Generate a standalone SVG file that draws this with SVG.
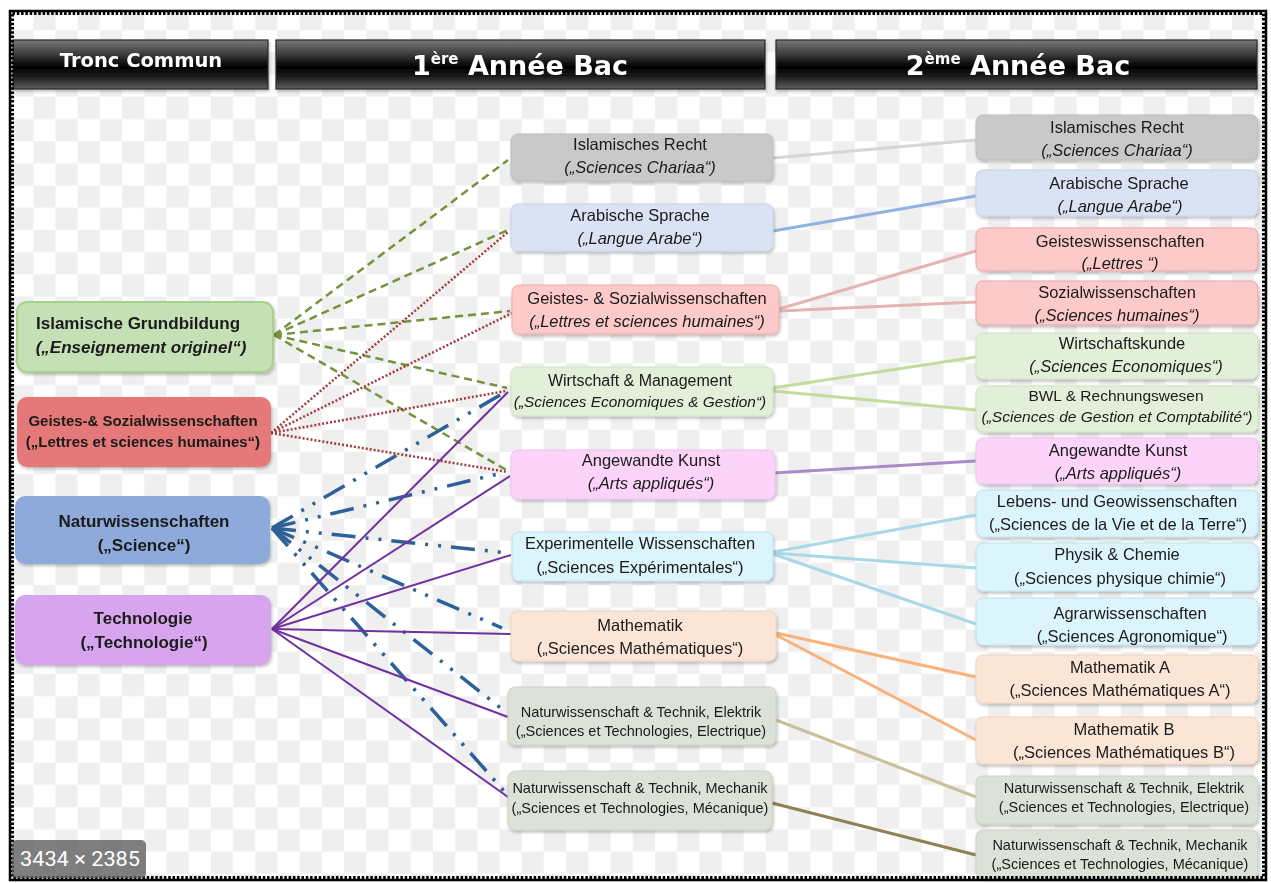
<svg xmlns="http://www.w3.org/2000/svg" width="1271" height="883" viewBox="0 0 1271 883">
<style>
.t{font-family:"Liberation Sans",Arial,sans-serif;fill:#1a1a1a;text-anchor:middle}
.n16{font-size:16.5px}
.n15{font-size:15.5px}
.n14{font-size:14.5px}
.it{font-style:italic}
.bd{font-weight:bold}
.hd{font-family:"DejaVu Sans",Verdana,sans-serif;font-weight:bold;fill:#fff;text-anchor:middle}
.g{stroke:#76923c;stroke-width:2.5;stroke-dasharray:8 5;fill:none}
.r{stroke:#a33b3b;stroke-width:2.5;stroke-dasharray:2 2;fill:none}
.b{stroke:#2e6197;stroke-width:3.5;stroke-dasharray:24 10 3 10 3 10;fill:none}
.p{stroke:#7030a0;stroke-width:2;fill:none}
.c{stroke-width:3;fill:none}
.nd{filter:url(#sh)}
</style>
<defs>
<pattern id="chk" x="33.3" y="7.9" width="44.4" height="44.4" patternUnits="userSpaceOnUse">
<rect width="44.4" height="44.4" fill="#ffffff"/>
<rect width="22.2" height="22.2" fill="#efefef"/>
<rect x="22.2" y="22.2" width="22.2" height="22.2" fill="#efefef"/>
</pattern>
<linearGradient id="hg" x1="0" y1="0" x2="0" y2="1">
<stop offset="0" stop-color="#7a7a7a"/>
<stop offset="0.3" stop-color="#3a3a3a"/>
<stop offset="0.55" stop-color="#000"/>
<stop offset="0.75" stop-color="#1c1c1c"/>
<stop offset="1" stop-color="#5e5e5e"/>
</linearGradient>
<filter id="sh" x="-10%" y="-20%" width="120%" height="150%">
<feDropShadow dx="1" dy="2" stdDeviation="1.5" flood-color="#000" flood-opacity="0.25"/>
</filter>
</defs>

<rect width="1271" height="883" fill="#ffffff"/>
<rect x="10" y="11" width="1256" height="869" fill="url(#chk)"/>

<!-- header bars -->
<g id="hdr-tronc" class="nd">
<rect x="13" y="40" width="255" height="49" fill="url(#hg)" stroke="#2a2a2a" stroke-width="1.2"/>
<text class="hd" x="141" y="67" font-size="19.5">Tronc Commun</text>
</g>
<g id="hdr-1ere" class="nd">
<rect x="276" y="40" width="489" height="49" fill="url(#hg)" stroke="#2a2a2a" stroke-width="1.2"/>
<text class="hd" x="520" y="75" font-size="27">1<tspan font-size="15" dy="-11">ère</tspan><tspan dy="11"> Année Bac</tspan></text>
</g>
<g id="hdr-2eme" class="nd">
<rect x="776" y="40" width="481" height="49" fill="url(#hg)" stroke="#2a2a2a" stroke-width="1.2"/>
<text class="hd" x="1018" y="75" font-size="27">2<tspan font-size="15" dy="-11">ème</tspan><tspan dy="11"> Année Bac</tspan></text>
</g>

<!-- connectors -->
<g id="connectors">
<path class="g" d="M274,335 L508,160"/>
<path class="g" d="M274,335 L508,230"/>
<path class="g" d="M274,335 L510,311"/>
<path class="g" d="M274,335 L507,388"/>
<path class="g" d="M274,335 L508,471"/>

<path class="r" d="M271,433 L508,232"/>
<path class="r" d="M271,433 L512,313"/>
<path class="r" d="M271,433 L506,391"/>
<path class="r" d="M271,433 L508,472"/>

<path class="b" d="M272,528 L507,391"/>
<path class="b" d="M272,528 L502,473"/>
<path class="b" d="M272,528 L508,553"/>
<path class="b" d="M272,528 L502,628"/>
<path class="b" d="M272,528 L507,713"/>
<path class="b" d="M272,528 L504,791"/>

<path class="p" d="M272,629 L508,392"/>
<path class="p" d="M272,629 L510,476"/>
<path class="p" d="M272,629 L511,555"/>
<path class="p" d="M272,629 L511,634"/>
<path class="p" d="M272,629 L508,717"/>
<path class="p" d="M272,629 L508,797"/>

<path class="c" stroke="#d6d6d6" d="M773,158 L976,140"/>
<path class="c" stroke="#8db3e2" d="M773,231 L976,196"/>
<path class="c" stroke="#e6b3b3" d="M779,309 L976,251"/>
<path class="c" stroke="#e6b3b3" d="M779,311 L976,302"/>
<path class="c" stroke="#c3dc9d" d="M773,388 L976,357"/>
<path class="c" stroke="#c3dc9d" d="M773,391 L976,410"/>
<path class="c" stroke="#a98bc7" d="M773,473 L976,461"/>
<path class="c" stroke="#a9d8e6" d="M773,552 L976,515"/>
<path class="c" stroke="#a9d8e6" d="M773,553 L976,568"/>
<path class="c" stroke="#a9d8e6" d="M773,554 L976,624"/>
<path class="c" stroke="#f9b27c" d="M776,633 L976,677"/>
<path class="c" stroke="#f9b27c" d="M776,635 L976,740"/>
<path class="c" stroke="#c9bf98" d="M776,720 L976,797"/>
<path class="c" stroke="#8e8152" d="M772,803 L976,855"/>
</g>

<!-- left column -->
<g id="l-islam" class="nd">
<rect x="17" y="302" width="256" height="70" rx="10" fill="#c5e0b4" stroke="#a9d18e" stroke-width="2"/>
<text class="t bd" x="138" y="329" font-size="17">Islamische Grundbildung</text>
<text class="t bd it" x="141" y="353" font-size="17">(„Enseignement originel“)</text>
</g>
<g id="l-geistes" class="nd">
<rect x="17" y="397" width="254" height="70" rx="10" fill="#e57878"/>
<text class="t bd" x="143" y="426" font-size="15">Geistes-&amp; Sozialwissenschaften</text>
<text class="t bd" x="143" y="447" font-size="15">(„Lettres et sciences humaines“)</text>
</g>
<g id="l-natur" class="nd">
<rect x="15" y="496" width="255" height="68" rx="10" fill="#8eaadb"/>
<text class="t bd" x="144" y="527" font-size="17">Naturwissenschaften</text>
<text class="t bd" x="144" y="551" font-size="17">(„Science“)</text>
</g>
<g id="l-tech" class="nd">
<rect x="15" y="595" width="256" height="70" rx="10" fill="#d7a5ee"/>
<text class="t bd" x="143" y="624" font-size="17">Technologie</text>
<text class="t bd" x="144" y="648" font-size="17">(„Technologie“)</text>
</g>

<!-- middle column -->
<g id="m-recht" class="nd">
<rect x="511" y="134" width="262" height="47" rx="7" fill="#c9c9c9" stroke="#bdbdbd"/>
<text class="t n16" x="640" y="150">Islamisches Recht</text>
<text class="t n16 it" x="640" y="173">(„Sciences Chariaa“)</text>
</g>
<g id="m-arab" class="nd">
<rect x="511" y="204" width="262" height="47" rx="7" fill="#dae3f3" stroke="#c6d4ec"/>
<text class="t n16" x="640" y="221">Arabische Sprache</text>
<text class="t n16 it" x="640" y="244">(„Langue Arabe“)</text>
</g>
<g id="m-geistes" class="nd">
<rect x="512" y="285" width="267" height="49" rx="7" fill="#fdcaca" stroke="#f0abab"/>
<text class="t n16" x="647" y="304">Geistes- &amp; Sozialwissenschaften</text>
<text class="t n16 it" x="647" y="327">(„Lettres et sciences humaines“)</text>
</g>
<g id="m-wirt" class="nd">
<rect x="511" y="367" width="262" height="49" rx="7" fill="#e2efd9" stroke="#d0e4c3"/>
<text class="t" x="640" y="386" font-size="16">Wirtschaft &amp; Management</text>
<text class="t it" x="640" y="407" font-size="15.4">(„Sciences Economiques &amp; Gestion“)</text>
</g>
<g id="m-kunst" class="nd">
<rect x="511" y="450" width="264" height="49" rx="7" fill="#fcd4f9" stroke="#f1c2ed"/>
<text class="t n16" x="651" y="466">Angewandte Kunst</text>
<text class="t n16 it" x="651" y="489">(„Arts appliqués“)</text>
</g>
<g id="m-exp" class="nd">
<rect x="512" y="532" width="261" height="49" rx="7" fill="#dcf5fd" stroke="#b9e4f1"/>
<text class="t n16" x="640" y="549">Experimentelle Wissenschaften</text>
<text class="t n16" x="640" y="573">(„Sciences Expérimentales“)</text>
</g>
<g id="m-math" class="nd">
<rect x="511" y="611" width="265" height="50" rx="7" fill="#fbe5d6" stroke="#f2d3be"/>
<text class="t n16" x="640" y="631">Mathematik</text>
<text class="t n16" x="640" y="654">(„Sciences Mathématiques“)</text>
</g>
<g id="m-elek" class="nd">
<rect x="508" y="687" width="268" height="58" rx="7" fill="#dde2d8" stroke="#ccd2c5"/>
<text class="t n14" x="641" y="717">Naturwissenschaft &amp; Technik, Elektrik</text>
<text class="t n14" x="641" y="736">(„Sciences et Technologies, Electrique)</text>
</g>
<g id="m-mech" class="nd">
<rect x="508" y="771" width="264" height="59" rx="7" fill="#dde2d8" stroke="#ccd2c5"/>
<text class="t n14" x="640" y="793">Naturwissenschaft &amp; Technik, Mechanik</text>
<text class="t n14" x="640" y="813">(„Sciences et Technologies, Mécanique)</text>
</g>

<!-- right column -->
<g id="r-recht" class="nd">
<rect x="976" y="115" width="282" height="45" rx="7" fill="#c9c9c9" stroke="#bdbdbd"/>
<text class="t n16" x="1117" y="133">Islamisches Recht</text>
<text class="t n16 it" x="1117" y="156">(„Sciences Chariaa“)</text>
</g>
<g id="r-arab" class="nd">
<rect x="976" y="170" width="282" height="46" rx="7" fill="#dae3f3" stroke="#c6d4ec"/>
<text class="t n16" x="1119" y="189">Arabische Sprache</text>
<text class="t n16 it" x="1120" y="212">(„Langue Arabe“)</text>
</g>
<g id="r-geistes" class="nd">
<rect x="976" y="228" width="282" height="43" rx="7" fill="#fdcaca" stroke="#eaa5a5"/>
<text class="t n16" x="1120" y="247">Geisteswissenschaften</text>
<text class="t n16 it" x="1120" y="269">(„Lettres “)</text>
</g>
<g id="r-sozial" class="nd">
<rect x="976" y="281" width="282" height="44" rx="7" fill="#fdcaca" stroke="#eaa5a5"/>
<text class="t n16" x="1117" y="298">Sozialwissenschaften</text>
<text class="t n16 it" x="1117" y="321">(„Sciences humaines“)</text>
</g>
<g id="r-wirt" class="nd">
<rect x="976" y="333" width="282" height="46" rx="7" fill="#e2efd9" stroke="#d0e4c3"/>
<text class="t n16" x="1122" y="349">Wirtschaftskunde</text>
<text class="t n16 it" x="1126" y="372">(„Sciences Economiques“)</text>
</g>
<g id="r-bwl" class="nd">
<rect x="976" y="386" width="282" height="46" rx="7" fill="#e2efd9" stroke="#d0e4c3"/>
<text class="t n15" x="1116" y="401">BWL &amp; Rechnungswesen</text>
<text class="t n15 it" x="1117" y="422" textLength="271" lengthAdjust="spacingAndGlyphs">(„Sciences de Gestion et Comptabilité“)</text>
</g>
<g id="r-kunst" class="nd">
<rect x="976" y="438" width="282" height="46" rx="7" fill="#fcd4f9" stroke="#f1c2ed"/>
<text class="t n16" x="1118" y="456">Angewandte Kunst</text>
<text class="t n16 it" x="1118" y="479">(„Arts appliqués“)</text>
</g>
<g id="r-leben" class="nd">
<rect x="976" y="490" width="282" height="47" rx="7" fill="#dcf5fd" stroke="#b9e4f1"/>
<text class="t n16" x="1117" y="507">Lebens- und Geowissenschaften</text>
<text class="t n16" x="1118" y="530">(„Sciences de la Vie et de la Terre“)</text>
</g>
<g id="r-physik" class="nd">
<rect x="976" y="543" width="282" height="48" rx="7" fill="#dcf5fd" stroke="#b9e4f1"/>
<text class="t n16" x="1117" y="560">Physik &amp; Chemie</text>
<text class="t n16" x="1120" y="584">(„Sciences physique chimie“)</text>
</g>
<g id="r-agrar" class="nd">
<rect x="976" y="598" width="282" height="47" rx="7" fill="#dcf5fd" stroke="#b9e4f1"/>
<text class="t n16" x="1130" y="619">Agrarwissenschaften</text>
<text class="t n16" x="1132" y="642">(„Sciences Agronomique“)</text>
</g>
<g id="r-matha" class="nd">
<rect x="976" y="655" width="282" height="48" rx="7" fill="#fbe5d6" stroke="#f2d3be"/>
<text class="t n16" x="1120" y="673">Mathematik A</text>
<text class="t n16" x="1120" y="696">(„Sciences Mathématiques A“)</text>
</g>
<g id="r-mathb" class="nd">
<rect x="976" y="717" width="282" height="47" rx="7" fill="#fbe5d6" stroke="#f2d3be"/>
<text class="t n16" x="1124" y="735">Mathematik B</text>
<text class="t n16" x="1124" y="758">(„Sciences Mathématiques B“)</text>
</g>
<g id="r-elek" class="nd">
<rect x="976" y="776" width="282" height="48" rx="7" fill="#dde2d8" stroke="#ccd2c5"/>
<text class="t n14" x="1124" y="793">Naturwissenschaft &amp; Technik, Elektrik</text>
<text class="t n14" x="1124" y="812">(„Sciences et Technologies, Electrique)</text>
</g>
<g id="r-mech" class="nd">
<rect x="976" y="830" width="282" height="48" rx="7" fill="#dde2d8" stroke="#ccd2c5"/>
<text class="t n14" x="1120" y="850">Naturwissenschaft &amp; Technik, Mechanik</text>
<text class="t n14" x="1120" y="869">(„Sciences et Technologies, Mécanique)</text>
</g>

<!-- frame -->
<rect x="10" y="11" width="1256" height="869" fill="none" stroke="#000" stroke-width="2.5"/>
<rect x="12.5" y="13.5" width="1251" height="864" fill="none" stroke="#000" stroke-width="3" stroke-dasharray="2.5 1.8"/>

<!-- size badge -->
<g id="badge">
<rect x="12" y="840" width="134" height="38" rx="5" fill="#5f5f5f" fill-opacity="0.8"/>
<text x="80" y="866" font-family="Roboto,'Liberation Sans',sans-serif" font-size="20" fill="#fff" text-anchor="middle" textLength="120" lengthAdjust="spacingAndGlyphs">3434 × 2385</text>
</g>
</svg>
